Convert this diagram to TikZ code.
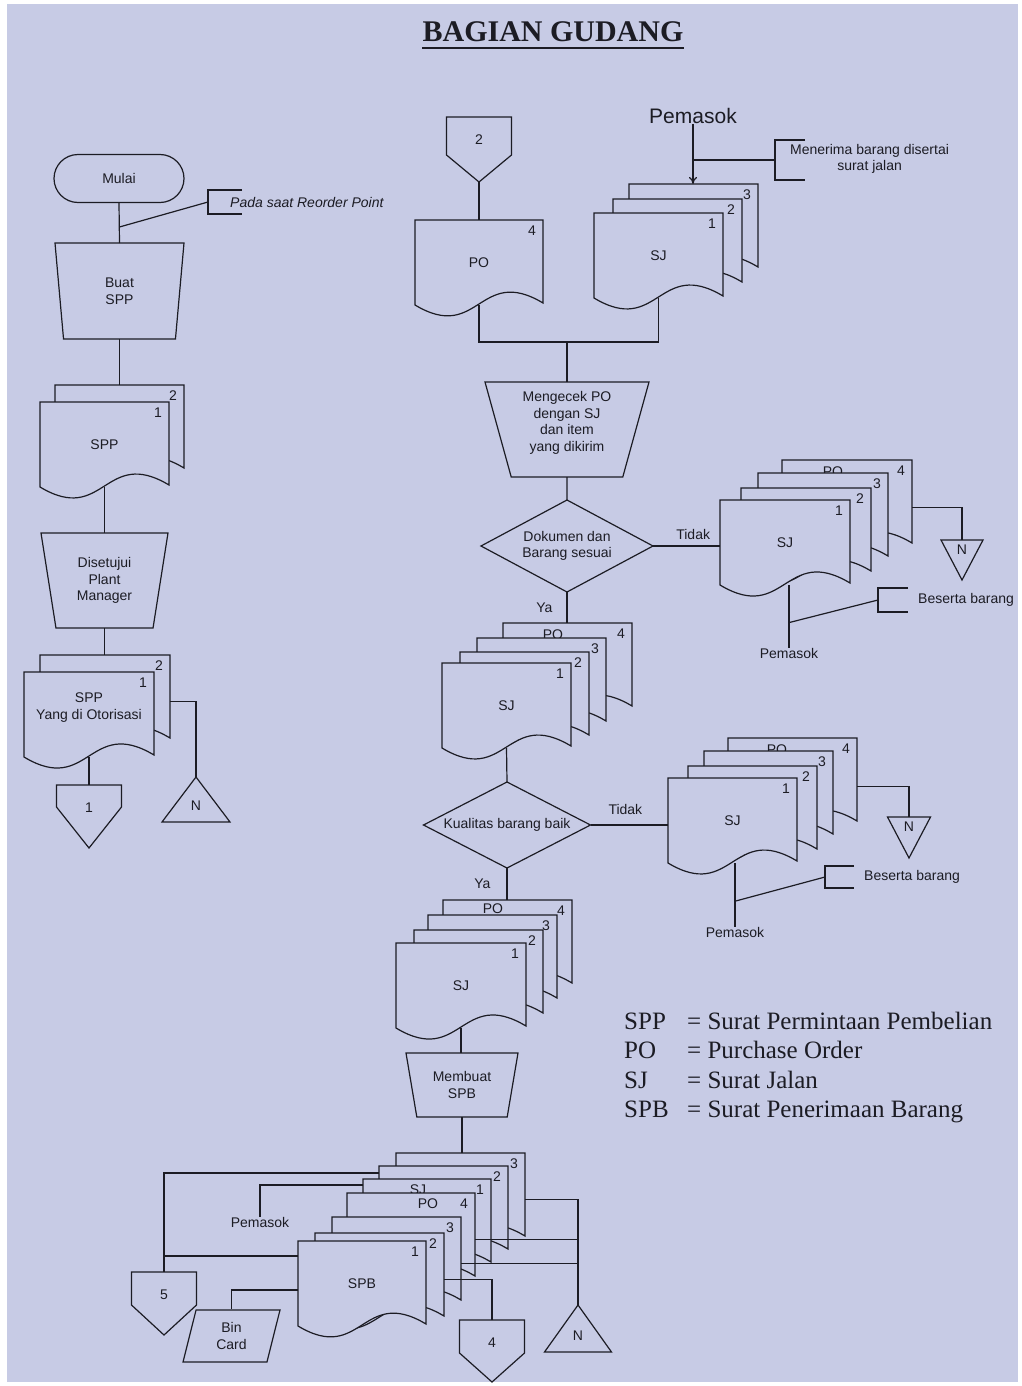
\documentclass[tikz,border=0pt]{standalone}
\usepackage{fontspec}
\setmainfont{Liberation Serif}
\newfontfamily\arialfont{Liberation Sans}
\usetikzlibrary{arrows.meta,positioning,shapes.geometric,calc}
\definecolor{scanbg}{RGB}{199,203,229}
\definecolor{ink}{RGB}{28,28,36}
\tikzset{
  line/.style={draw=ink, line width=1.2pt},
  lbl/.style={font=\arialfont\fontsize{14}{16.5}\selectfont, text=ink, inner sep=0pt, align=center},
  legend/.style={font=\fontsize{25}{30}\selectfont, text=ink, inner sep=0pt},
  box/.style={draw=none, inner sep=0pt, outer sep=0pt},
  docbox/.style={box, lbl, anchor=north west, minimum height=85pt},
  terminal/.style={line, fill=scanbg, lbl, rounded corners=24pt, minimum width=130pt, minimum height=48pt},
  manualop/.style={line, fill=scanbg, lbl, trapezium, shape border rotate=180, trapezium stretches body, outer sep=0pt},
  decision/.style={line, fill=scanbg, lbl, diamond, aspect=1.9, outer sep=0pt},
  card/.style={line, fill=scanbg, lbl, trapezium, trapezium stretches body, trapezium left angle=64,
               trapezium right angle=116, minimum width=97pt, minimum height=52pt},
}
% one sheet of a document: name, left, top, width, text, copy number
\newcommand{\docsheet}[6]{%
  \filldraw[line, fill=scanbg] (#2,#3) -- ++(#4,0) -- ++(0,83)
    .. controls +({-0.5*#4},{-0.3*#4}) and +({0.5*#4},{0.3*#4}) .. ++({-#4},2) -- cycle;
  \node[docbox, minimum width=#4pt] (#1) at (#2,#3) {#5};
  \node[lbl] at ($(#1.north east)+(-11,11)$) {#6};
}
% off-page connector: name, centre x, top, side height, total height, text
\newcommand{\offpage}[6]{%
  \node[box, minimum width=65pt, minimum height=#5pt, anchor=north] (#1) at (#2,#3) {};
  \filldraw[line, fill=scanbg] (#1.north west) -- (#1.north east) -- ++(0,#4) -- (#1.south)
    -- ($(#1.north west)+(0,#4)$) -- cycle;
  \node[lbl] at ($(#1.north)+(0,23)$) {#6};
}
% file symbols: name, centre x, top, width, height
\newcommand{\fileup}[5]{%
  \node[box, minimum width=#4pt, minimum height=#5pt, anchor=north] (#1) at (#2,#3) {};
  \filldraw[line, fill=scanbg] (#1.north) -- (#1.south east) -- (#1.south west) -- cycle;
  \node[lbl] at ($(#1.south)+(0,-16)$) {N};
}
\newcommand{\filedown}[5]{%
  \node[box, minimum width=#4pt, minimum height=#5pt, anchor=north] (#1) at (#2,#3) {};
  \filldraw[line, fill=scanbg] (#1.north west) -- (#1.north east) -- (#1.south) -- cycle;
  \node[lbl] at ($(#1.north)+(0,10)$) {N};
}
% comment bracket: coordinate, half height, tick length
\newcommand{\notebracket}[3]{%
  \draw[line] ($(#1)+(#3,-#2)$) -- ($(#1)+(0,-#2)$) -- ($(#1)+(0,#2)$) -- ($(#1)+(#3,#2)$);
}

\begin{document}
\begin{tikzpicture}[x=1pt, y=-1pt]
\useasboundingbox (0,0) rectangle (1022,1386);
\fill[white] (0,0) rectangle (1022,1386);
\fill[scanbg] (7,4) rectangle (1018,1382);

% Title
\node[font=\fontsize{30}{36}\selectfont\bfseries, text=ink, inner sep=0pt] (title) at (553,32) {BAGIAN GUDANG};
\draw[draw=ink, line width=2.5pt] ([yshift=-6pt]title.base west) -- ([yshift=-6pt]title.base east);

% Left column: SPP
\node[terminal] (mulai) at (119,178.5) {Mulai};
\node[manualop, trapezium left angle=72, trapezium right angle=72, minimum width=129pt, minimum height=96pt] (buat) at (119.5,291) {Buat\\SPP};
\draw[line] (mulai.south) -- (buat.north);
\node[lbl, font=\arialfont\itshape\fontsize{14}{16.5}\selectfont, anchor=west] (rop) at (230,202) {Pada saat Reorder Point};
\coordinate (ropb) at ($(rop.west)+(-22,0)$);
\notebracket{ropb}{12}{34}
\coordinate (ropa) at ($(mulai.south)!0.6!(buat.north)$);
\draw[line] (ropa) -- (ropb);

\docsheet{sppb}{55}{385}{129}{}{2}
\docsheet{sppa}{40}{402}{129}{SPP}{1}
\draw[line] (buat.south) -- (buat.south |- sppb.north);
\node[manualop, trapezium left angle=72, trapezium right angle=72, minimum width=127pt, minimum height=95pt] (setuju) at (104.5,580.5) {Disetujui\\Plant\\Manager};
\draw[line] (sppa.south) -- (sppa.south |- setuju.north);

\docsheet{otob}{40}{655}{130}{}{2}
\docsheet{otoa}{24}{672}{130}{SPP\\Yang di Otorisasi\\\mbox{}}{1}
\draw[line] (setuju.south) -- (setuju.south |- otob.north);
\fileup{na}{196}{777}{68}{45}
\offpage{ca}{89}{785}{22}{63}{1}
\draw[line] ([yshift=-4pt]otob.east) -| (na.north);
\draw[line] (otoa.south) -- (ca.north);

% Middle column: receiving
\offpage{cb}{479}{117}{38}{65}{2}
\docsheet{po}{415}{220}{128}{PO}{4}
\draw[line] (cb.south) -- (cb.south |- po.north);

\node[lbl, font=\arialfont\fontsize{21}{24}\selectfont] (pemtop) at (693,116) {Pemasok};
\docsheet{sjc}{629}{184}{129}{}{3}
\docsheet{sjb}{613}{199}{129}{}{2}
\docsheet{sja}{594}{213}{129}{SJ}{1}
\draw[line, -{To[length=7pt,width=8pt]}] (pemtop.south) -- (pemtop.south |- sjc.north);
\node[lbl, anchor=west] (terima) at (790,159) {Menerima barang disertai\\surat jalan};
\coordinate (terimab) at ($(terima.west)+(-15,1)$);
\notebracket{terimab}{20}{30}
\draw[line] (terimab) -- (terimab -| pemtop.south);

\node[manualop, trapezium left angle=71, trapezium right angle=71, minimum width=164pt, minimum height=95pt] (cek) at (567,429.5) {Mengecek PO\\dengan SJ\\dan item\\yang dikirim\\\mbox{}};
\coordinate (j1) at ($(cek.north)+(0,-40)$);
\draw[line] (po.south) |- (j1) -| (sja.south);
\draw[line] (j1) -- (cek.north);

\node[decision, minimum width=172pt, minimum height=92pt] (dok) at (567,546) {Dokumen dan\\Barang sesuai};
\draw[line] (cek.south) -- (dok.north);

% Tidak: returned to supplier
\docsheet{ra4}{782}{460}{130}{}{4}
\node[lbl] at ($(ra4.north west)+(51,12)$) {PO};
\docsheet{ra3}{758}{473}{130}{}{3}
\docsheet{ra2}{741}{488}{130}{}{2}
\docsheet{ra1}{720}{500}{130}{SJ}{1}
\draw[line] (dok.east) -- node[lbl, above=6pt, pos=0.6] {Tidak} (dok.east -| ra1.west);
\filedown{nb}{962}{540}{42}{40}
\draw[line] ([yshift=-5pt]ra4.east) -| (nb.north);
\node[lbl] (pema) at (789,653) {Pemasok};
\draw[line] (ra1.south -| pema.north) -- (pema.north);
\node[lbl, anchor=west] (besa) at (918,600) {Beserta barang};
\coordinate (besab) at ($(besa.west)+(-40,0)$);
\notebracket{besab}{12}{30}
\coordinate (pemaa) at ($(ra1.south -| pema.north)!0.6!(pema.north)$);
\draw[line] (pemaa) -- (besab);

% Ya
\docsheet{sb4}{503}{623}{129}{}{4}
\node[lbl] at ($(sb4.north west)+(50,12)$) {PO};
\docsheet{sb3}{477}{638}{129}{}{3}
\docsheet{sb2}{460}{652}{129}{}{2}
\docsheet{sb1}{442}{663}{129}{SJ}{1}
\draw[line] (dok.south) -- node[lbl, left=14pt] {Ya} (dok.south |- sb4.north);

\node[decision, minimum width=167pt, minimum height=86pt] (kual) at (507,825) {Kualitas barang baik};
\draw[line] (sb1.south) -- (kual.north);

\docsheet{rb4}{728}{738}{129}{}{4}
\node[lbl] at ($(rb4.north west)+(49,12)$) {PO};
\docsheet{rb3}{704}{751}{129}{}{3}
\docsheet{rb2}{688}{766}{129}{}{2}
\docsheet{rb1}{668}{778}{129}{SJ}{1}
\draw[line] (kual.east) -- node[lbl, above=10pt, pos=0.45] {Tidak} (kual.east -| rb1.west);
\filedown{nc}{909}{817}{43}{41}
\draw[line] ([yshift=-6pt]rb4.east) -| (nc.north);
\node[lbl] (pemb) at (735,932) {Pemasok};
\draw[line] (rb1.south -| pemb.north) -- (pemb.north);
\node[lbl, anchor=west] (besb) at (864,877) {Beserta barang};
\coordinate (besbb) at ($(besb.west)+(-39,0)$);
\notebracket{besbb}{11}{29}
\coordinate (pemba) at ($(rb1.south -| pemb.north)!0.6!(pemb.north)$);
\draw[line] (pemba) -- (besbb);

\docsheet{sc4}{443}{900}{129}{}{4}
\node[lbl] at ($(sc4.north west)+(50,9)$) {PO};
\docsheet{sc3}{428}{915}{129}{}{3}
\docsheet{sc2}{414}{930}{129}{}{2}
\docsheet{sc1}{396}{943}{130}{SJ}{1}
\draw[line] (kual.south) -- node[lbl, left=16pt] {Ya} (kual.south |- sc4.north);

\node[manualop, trapezium left angle=68, trapezium right angle=68, minimum width=112pt, minimum height=64pt] (spb) at (462,1085) {Membuat\\SPB};
\draw[line] (sc1.south) -- (sc1.south |- spb.north);

% Legend
\foreach \ab/\txt [count=\i] in {SPP/Surat Permintaan Pembelian, PO/Purchase Order,
                                 SJ/Surat Jalan, SPB/Surat Penerimaan Barang}{
  \node[legend, anchor=base west] (key\i) at (624,{1000+29.4*\i}) {\ab};
  \node[legend, anchor=base west] at (687,{1000+29.4*\i}) {= \txt};
}

% Bottom: SPB and distribution
\docsheet{d3}{396}{1153}{129}{}{3}
\docsheet{d2}{379}{1166}{129}{}{2}
\docsheet{dsj}{363}{1179}{128}{}{1}
\node[lbl] at ($(dsj.north west)+(55,11)$) {SJ};
\docsheet{dpo}{347}{1193}{128}{}{4}
\node[lbl] at ($(dpo.north west)+(81,11)$) {PO};
\docsheet{s3}{332}{1217}{129}{}{3}
\docsheet{s2}{315}{1233}{129}{}{2}
\docsheet{s1}{298}{1241}{128}{SPB}{1}
\draw[line] (spb.south) -- (spb.south |- d3.north);

\offpage{cd}{164}{1272}{33}{63}{5}
\node[card] (bin) at (231.5,1336) {Bin\\Card};
\offpage{ce}{492}{1320}{33}{62}{4}
\fileup{nd}{578}{1305}{67}{47}
\node[lbl] (pemd) at (260,1222) {Pemasok};

\draw[line] ([yshift=-7pt]d2.north west) -| (cd.north);
\draw[line] ([yshift=-6pt]dsj.north west) -| (pemd.north);
\coordinate (s1a) at ([yshift=-15pt]s1.north west);
\draw[line] (s1a) -- (s1a -| cd.north);
\coordinate (s1b) at ([yshift=-49pt]s1.north west);
\draw[line] (s1b) -| (bin.center |- bin.north);
\draw[line] ([yshift=-4pt]d3.east) -| (nd.north);
\coordinate (dpoe) at ([yshift=-4pt]dpo.east);
\draw[line] (dpoe) -- (dpoe -| nd.north);
\coordinate (s3e) at ([yshift=-4pt]s3.east);
\draw[line] (s3e) -- (s3e -| nd.north);
\draw[line] ([yshift=-4pt]s2.east) -| (ce.north);
\end{tikzpicture}
\end{document}
